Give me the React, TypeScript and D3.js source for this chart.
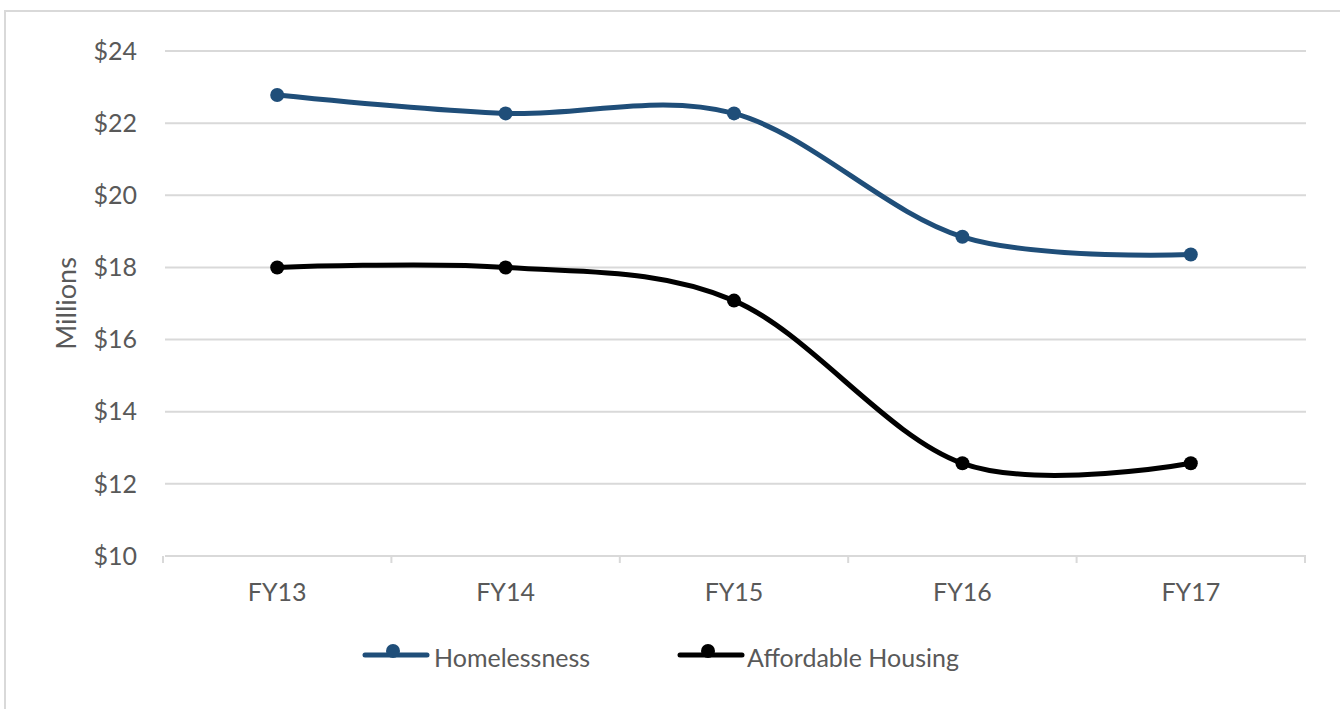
import React from "react";
import * as d3 from "d3";

const categories = ["FY13", "FY14", "FY15", "FY16", "FY17"];
const homelessness = [22.78, 22.27, 22.27, 18.85, 18.36];
const affordableHousing = [18.0, 18.0, 17.08, 12.57, 12.57];
const yTicks = [10, 12, 14, 16, 18, 20, 22, 24];
const seriesNames = ["Homelessness", "Affordable Housing"];
const seriesColors = ["#1F4E79", "#000000"];

const W = 1340;
const H = 709;
const FONT = "Lato, 'Open Sans', sans-serif";
const TEXT = "#595959";
const GRID = "#d9d9d9";
const FS = 25;

export default function App() {
  const x = d3.scaleBand<string>().domain(categories).range([163, 1305]).padding(0);
  const y = d3.scaleLinear().domain([10, 24]).range([556, 51]);
  const cx = (c: string) => (x(c) as number) + x.bandwidth() / 2;

  const line = d3
    .line<number>()
    .x((_, i) => cx(categories[i]))
    .y((d) => y(d))
    .curve(d3.curveCardinal.tension(0));

  const series = [homelessness, affordableHousing];
  const gridX0 = 165;
  const gridX1 = 1306;
  const tickXs = [...categories.map((c) => x(c) as number), (x(categories[categories.length - 1]) as number) + x.bandwidth()];

  const legendItems = [
    { lineX0: 365, lineX1: 427, textX: 434 },
    { lineX0: 680, lineX1: 742, textX: 747 },
  ];

  return (
    <svg width={W} height={H} style={{ position: "absolute", left: 0, top: 0 }} fontFamily={FONT}>
      <rect x={0} y={0} width={W} height={H} fill="#fff" />
      <rect x={5} y={11} width={W + 100} height={H + 100} fill="none" stroke={GRID} strokeWidth={2} />
      {yTicks.map((t) => (
        <g key={t}>
          <line x1={gridX0} x2={gridX1} y1={y(t)} y2={y(t)} stroke={GRID} strokeWidth={2} />
          <text x={137} y={y(t)} dy="0.35em" textAnchor="end" fontSize={FS} fill={TEXT}>
            {"$" + t}
          </text>
        </g>
      ))}
      {tickXs.map((tx, i) => (
        <line key={i} x1={tx} x2={tx} y1={y(10)} y2={y(10) + 7} stroke={GRID} strokeWidth={2} />
      ))}
      {categories.map((c) => (
        <text key={c} x={cx(c)} y={601} textAnchor="middle" fontSize={FS} fill={TEXT}>
          {c}
        </text>
      ))}
      <text
        transform={`translate(76, ${(y(10) + y(24)) / 2}) rotate(-90)`}
        textAnchor="middle"
        fontSize={27}
        fill={TEXT}
      >
        Millions
      </text>
      {series.map((s, si) => (
        <g key={si}>
          <path d={line(s) || ""} fill="none" stroke={seriesColors[si]} strokeWidth={5} strokeLinecap="round" />
          {s.map((v, i) => (
            <circle key={i} cx={cx(categories[i])} cy={y(v)} r={7} fill={seriesColors[si]} />
          ))}
        </g>
      ))}
      {legendItems.map((l, i) => (
        <g key={i}>
          <line x1={l.lineX0} x2={l.lineX1} y1={655} y2={655} stroke={seriesColors[i]} strokeWidth={5} strokeLinecap="round" />
          <circle cx={(l.lineX0 + l.lineX1) / 2 - 3} cy={651} r={7} fill={seriesColors[i]} />
          <text x={l.textX} y={667} fontSize={FS} fill={TEXT}>
            {seriesNames[i]}
          </text>
        </g>
      ))}
    </svg>
  );
}
